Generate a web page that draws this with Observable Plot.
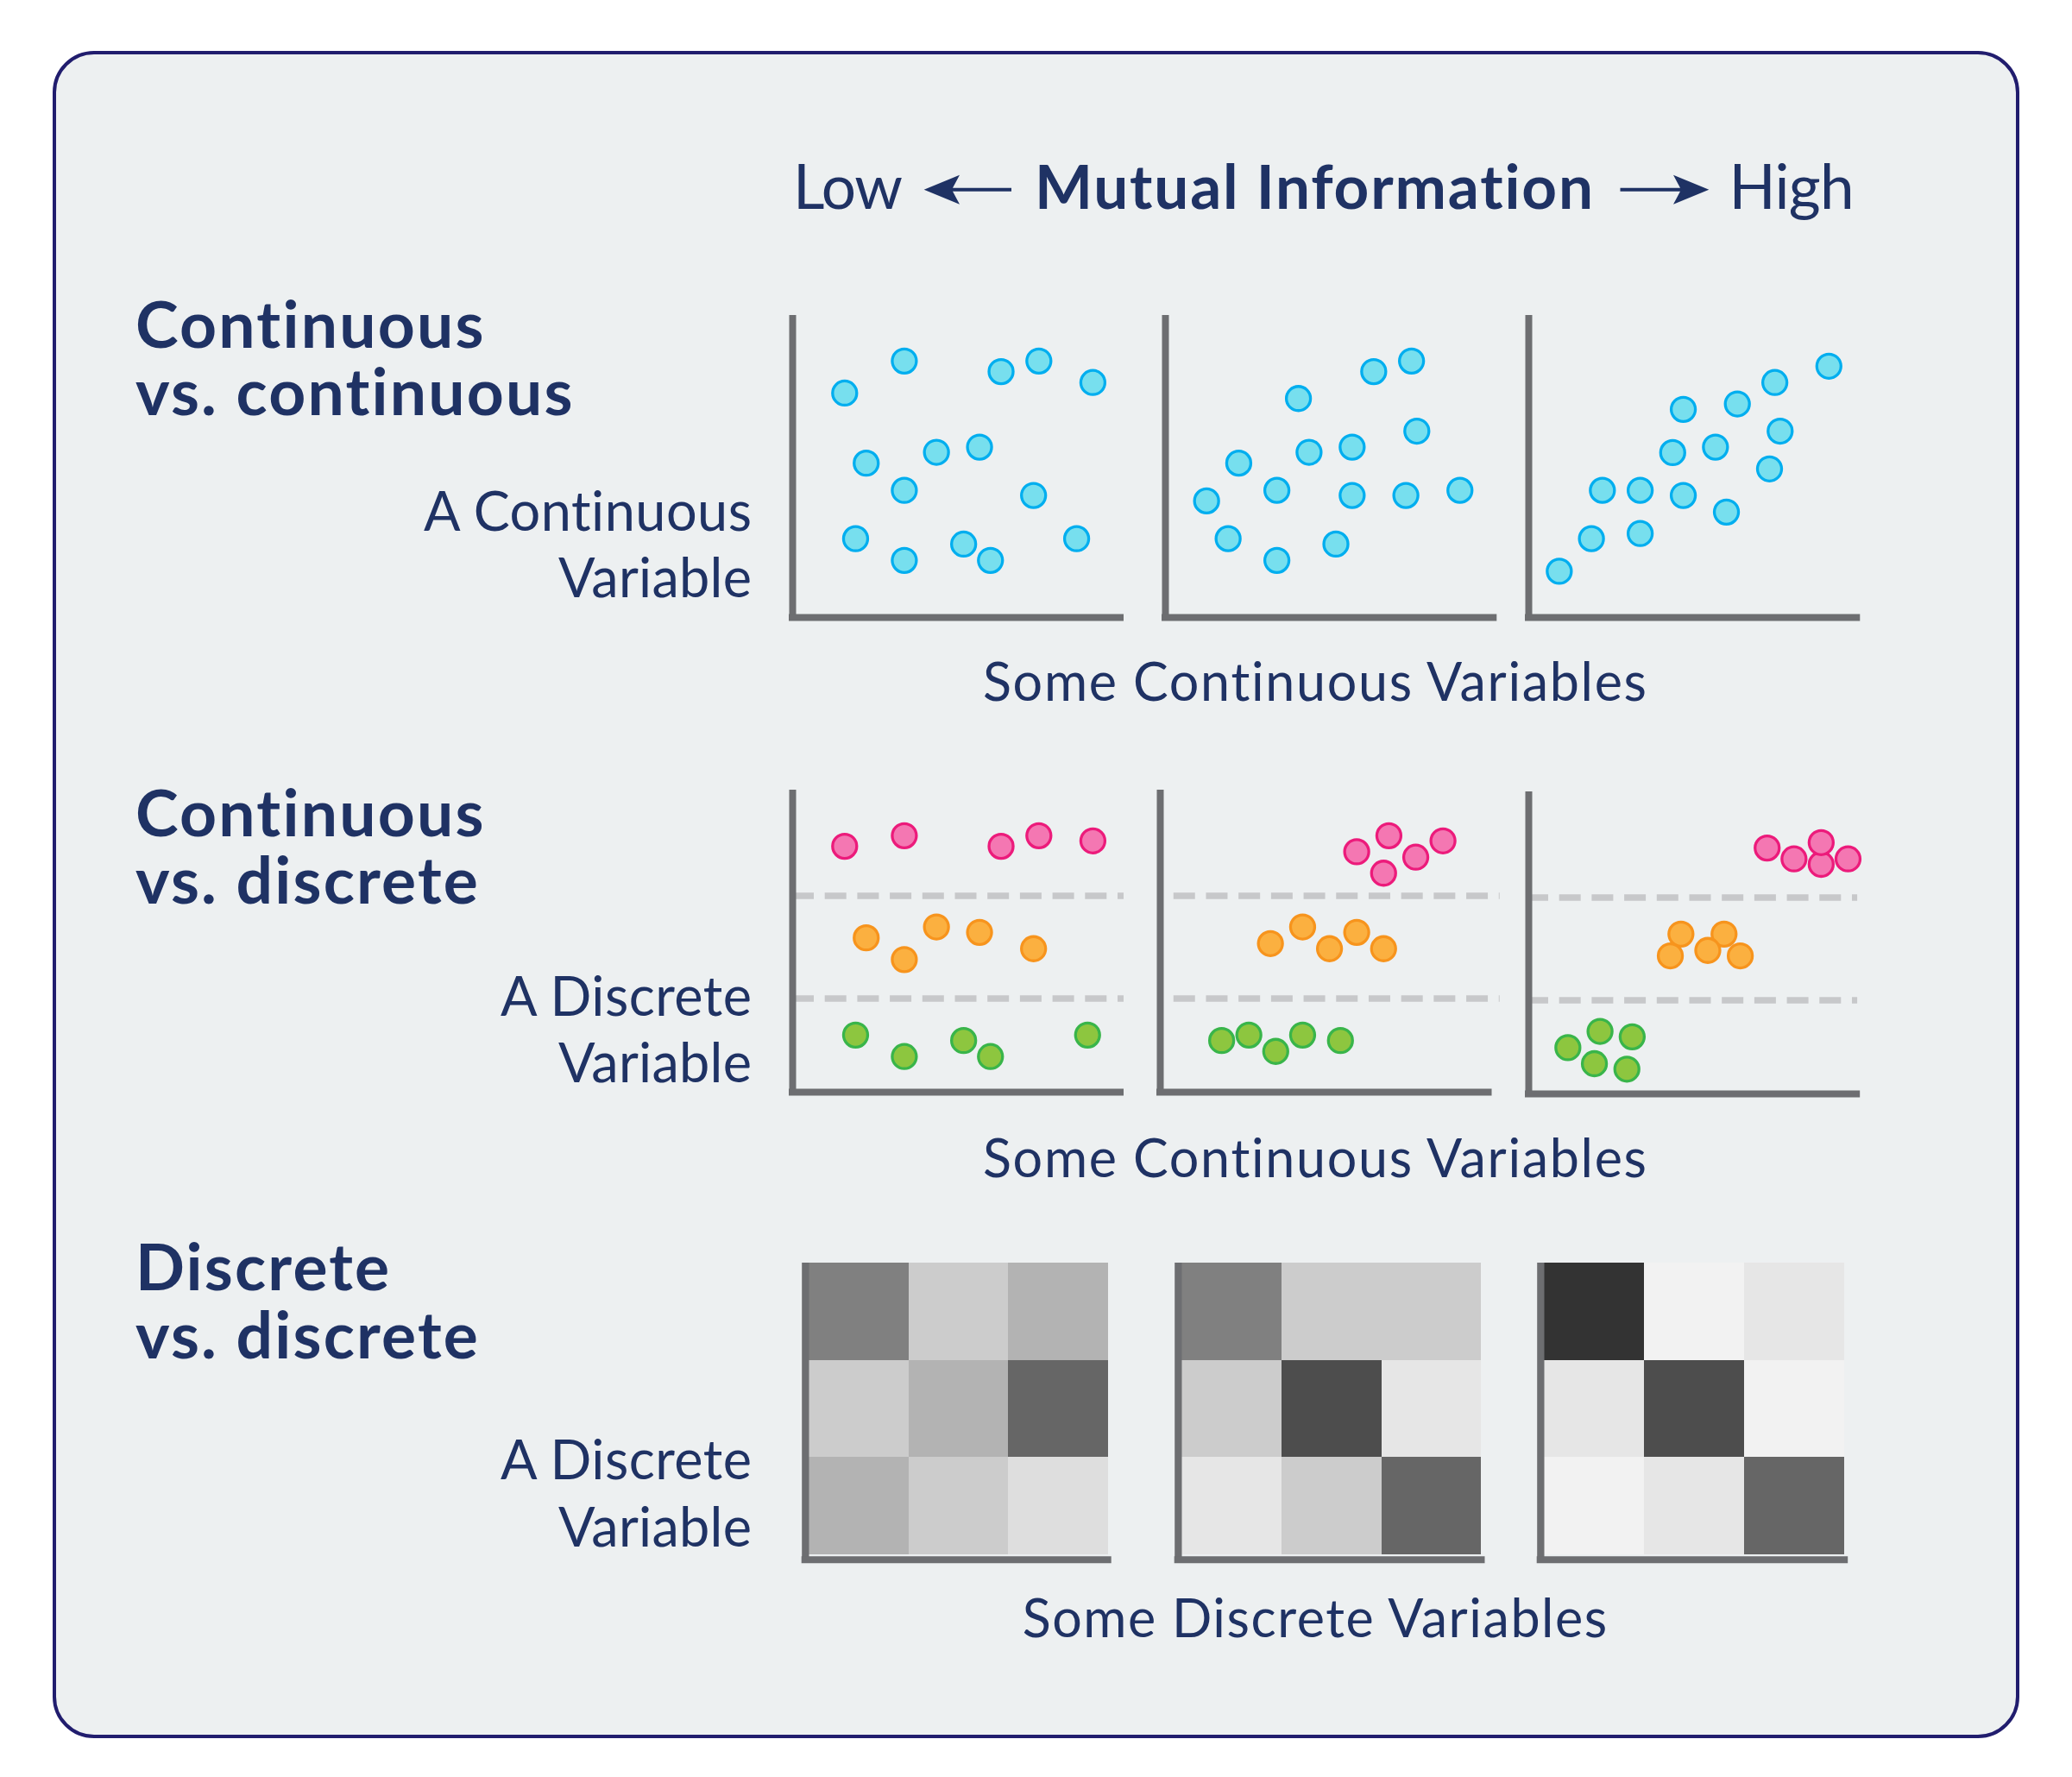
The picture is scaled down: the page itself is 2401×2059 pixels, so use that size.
<!DOCTYPE html>
<html>
<head>
<meta charset="utf-8">
<script src="https://cdn.jsdelivr.net/npm/d3@7"></script>
<script src="https://cdn.jsdelivr.net/npm/@observablehq/plot@0.6"></script>
<style>
html, body { margin: 0; padding: 0; background: #ffffff; }
#root { position: relative; width: 2401px; height: 2059px; overflow: hidden; font-family: Lato, "Open Sans", sans-serif; }
#card { position: absolute; left: 60.7px; top: 59.3px; width: 2279px; height: 1955px; box-sizing: border-box;
        border: 4px solid #211d6e; border-radius: 48px; background: #edf0f1; }
.panel { position: absolute; }
#labels { position: absolute; left: 0; top: 0; pointer-events: none; }
#labels text { font-variant-ligatures: none; font-feature-settings: "liga" 0, "clig" 0; }
.heading { position: absolute; white-space: pre; letter-spacing: 2.2px; font-variant-ligatures: none; font-feature-settings: "liga" 0, "clig" 0; }
</style>
</head>
<body>
<div id="root"><div id="card"></div></div>
<script>
// ---------------- DATA ----------------
// Continuous vs. continuous: [x, y] in 0–100 units of each panel
const ccLow = [[15.7,74.3],[33.7,84.9],[62.9,81.4],[74.3,84.9],[90.6,77.8],[22.2,51.1],[43.4,54.7],[56.4,56.4],
  [33.7,42.1],[72.7,40.4],[19.0,26.1],[33.7,18.9],[51.6,24.3],[59.7,18.9],[85.7,26.1]];
const ccMid = [[40.1,72.5],[62.8,81.4],[74.2,84.9],[75.8,61.7],[22.1,51.1],[43.3,54.7],[56.3,56.4],[12.4,38.6],
  [33.6,42.1],[56.3,40.4],[72.5,40.4],[88.8,42.1],[18.9,26.1],[33.6,18.9],[51.4,24.3]];
const ccHigh = [[90.5,83.2],[74.2,77.8],[62.9,70.7],[46.6,68.9],[75.8,61.7],[43.4,54.6],[56.3,56.4],[72.6,49.2],
  [22.2,42.1],[33.6,42.1],[46.6,40.4],[59.6,34.9],[18.9,26.1],[33.6,27.8],[9.2,15.3]];

// Continuous vs. discrete: [x, y, class]
const cdLow = [[15.7,81.4,"A"],[33.7,84.9,"A"],[62.9,81.4,"A"],[74.3,84.9,"A"],[90.6,83.2,"A"],
  [22.2,51.1,"B"],[33.7,43.9,"B"],[43.4,54.7,"B"],[56.4,52.9,"B"],[72.7,47.5,"B"],
  [19.0,18.9,"C"],[33.7,11.8,"C"],[51.6,17.1,"C"],[59.7,11.8,"C"],[89.0,18.9,"C"]];
const cdMid = [[59.2,79.6,"A"],[68.9,84.9,"A"],[67.3,72.5,"A"],[77.0,77.8,"A"],[85.2,83.2,"A"],
  [33.2,49.2,"B"],[42.9,54.7,"B"],[51.0,47.5,"B"],[59.2,52.9,"B"],[67.3,47.5,"B"],
  [18.5,17.1,"C"],[26.7,18.9,"C"],[34.8,13.5,"C"],[42.9,18.9,"C"],[54.3,17.1,"C"]];
const cdHigh = [[71.9,81.4,"A"],[80.0,77.8,"A"],[88.2,76.0,"A"],[88.2,83.2,"A"],[96.3,77.8,"A"],
  [45.9,52.9,"B"],[42.7,45.7,"B"],[58.9,52.9,"B"],[54.0,47.5,"B"],[63.8,45.7,"B"],
  [11.8,15.3,"C"],[21.5,20.7,"C"],[31.2,18.9,"C"],[19.8,10.0,"C"],[29.6,8.2,"C"]];
const cdDividers = [65, 31];

// Discrete vs. discrete: joint-probability shading, rows top→bottom
const ddLow  = [[0.50,0.20,0.30],[0.20,0.30,0.60],[0.30,0.20,0.13]];
const ddMid  = [[0.50,0.20,0.20],[0.20,0.70,0.10],[0.10,0.20,0.60]];
const ddHigh = [[0.80,0.05,0.10],[0.10,0.70,0.05],[0.05,0.10,0.60]];

// Text
const titleLow = "Low", titleMid = "Mutual Information", titleHigh = "High";
const rowTitles = [["Continuous","vs. continuous"],["Continuous","vs. discrete"],["Discrete","vs. discrete"]];
const yTitles = [["A Continuous","Variable"],["A Discrete","Variable"],["A Discrete","Variable"]];
const xTitles = ["Some Continuous Variables","Some Continuous Variables","Some Discrete Variables"];

// ---------------- STYLE / LAYOUT ----------------
const INK = "#1f3264", AXIS = "#6d6e71", DASH = "#c7c8ca";
const CLASS_FILL = {A: "#f477b2", B: "#fbb040", C: "#8dc63f"};
const CLASS_STROKE = {A: "#ec1b7b", B: "#f7941d", C: "#39b54a"};
const CYAN_FILL = "#77dfee", CYAN_STROKE = "#00aeef";

const root = document.getElementById("root");

function place(svg, left, top) {
  const d = document.createElement("div");
  d.className = "panel";
  d.style.left = left + "px";
  d.style.top = top + "px";
  d.appendChild(svg);
  root.appendChild(d);
}

function scatterPanel(pts, g, opts = {}) {
  const m = 30;
  const w = g.x1 - g.x0, h = g.yb - g.yt;
  const ux = w / 100, uy = h / 100;
  const marks = [];
  if (opts.dividers) {
    marks.push(Plot.ruleY(opts.dividers, {x1: opts.dx1 ?? 0, x2: opts.dx2 ?? 100, stroke: DASH, strokeWidth: 7.7,
      strokeDasharray: "25 12.7", strokeDashoffset: opts.dashOffset ?? 0}));
  }
  marks.push(Plot.ruleX([0], {y1: -4 / uy, y2: 100, stroke: AXIS, strokeWidth: 8}));
  marks.push(Plot.ruleY([0], {x1: -4 / ux, x2: 100, stroke: AXIS, strokeWidth: 8}));
  marks.push(Plot.dot(pts, {
    x: d => d[0], y: d => d[1], r: 14, strokeWidth: 3.3,
    fill: d => d[2] ? CLASS_FILL[d[2]] : CYAN_FILL,
    stroke: d => d[2] ? CLASS_STROKE[d[2]] : CYAN_STROKE
  }));
  const svg = Plot.plot({
    width: w + 2 * m, height: h + 2 * m, margin: m,
    x: {domain: [0, 100], axis: null},
    y: {domain: [0, 100], axis: null},
    color: {type: "identity"},
    style: {background: "transparent", maxWidth: "none", overflow: "visible"},
    marks
  });
  place(svg, g.x0 - m, g.yt - m);
}

function heatPanel(matrix, g) {
  const m = 30;
  const w = g.x1 - g.x0, h = g.yb - g.yt;
  const ux = w / 3, uy = h / 3;
  const cells = matrix.flatMap((row, i) => row.map((v, j) => ({row: i, col: j, v})));
  const svg = Plot.plot({
    width: w + 2 * m, height: h + 2 * m, margin: m,
    x: {domain: [0, 3], axis: null},
    y: {domain: [0, 3], reverse: true, axis: null},
    color: {type: "linear", domain: [0, 1], range: ["#ffffff", "#000000"], interpolate: "rgb"},
    style: {background: "transparent", maxWidth: "none", overflow: "visible"},
    marks: [
      Plot.rect(cells, {x1: "col", x2: d => d.col + 1, y1: "row", y2: d => d.row + 1, fill: "v", shapeRendering: "crispEdges"}),
      Plot.ruleX([0], {dx: -4.15, y1: 0, y2: 3 + 10 / uy, stroke: AXIS, strokeWidth: 8.3}),
      Plot.ruleY([3], {dy: 6, x1: -8.3 / ux, x2: 3 + 4 / ux, stroke: AXIS, strokeWidth: 8})
    ]
  });
  place(svg, g.x0 - m, g.yt - m);
}

// Row 1
scatterPanel(ccLow,  {x0: 918,    x1: 1302, yt: 365, yb: 715});
scatterPanel(ccMid,  {x0: 1349.7, x1: 1734, yt: 365, yb: 715});
scatterPanel(ccHigh, {x0: 1770.7, x1: 2155, yt: 365, yb: 715});
// Row 2
scatterPanel(cdLow,  {x0: 918,    x1: 1302,   yt: 915, yb: 1265}, {dividers: cdDividers, dx1: 0, dx2: 100});
scatterPanel(cdMid,  {x0: 1344.2, x1: 1728.7, yt: 915, yb: 1265}, {dividers: cdDividers, dx1: 4.1, dx2: 102.4});
scatterPanel(cdHigh, {x0: 1770.8, x1: 2155,   yt: 917, yb: 1267}, {dividers: cdDividers, dx1: 0, dx2: 99.2, dashOffset: 2});
// Row 3
heatPanel(ddLow,  {x0: 937.3,  x1: 1284,   yt: 1463, yb: 1800.7});
heatPanel(ddMid,  {x0: 1368.5, x1: 1716,   yt: 1463, yb: 1800.7});
heatPanel(ddHigh, {x0: 1788.9, x1: 2137.1, yt: 1463, yb: 1800.7});

// ---------------- ROW HEADINGS (one two-line text block each) ----------------
const HEAD_SIZE = 75, HEAD_LH = 78.4;
const rowBase = [403.3, 969.3, 1495.4];
rowTitles.forEach((lines, i) => {
  const div = document.createElement("div");
  div.className = "heading";
  const top = rowBase[i] - (HEAD_LH - 1.2 * HEAD_SIZE) / 2 - 0.987 * HEAD_SIZE;
  div.style.cssText += `left:157px;top:${top}px;font:700 ${HEAD_SIZE}px/${HEAD_LH}px Lato, sans-serif;color:${INK};`;
  div.textContent = lines.join("\n");
  root.appendChild(div);
});

// ---------------- TEXT OVERLAY ----------------
const NS = "http://www.w3.org/2000/svg";
const ov = document.createElementNS(NS, "svg");
ov.setAttribute("id", "labels");
ov.setAttribute("width", 2401);
ov.setAttribute("height", 2059);
root.appendChild(ov);

function txt(s, x, y, {size, weight = 400, anchor = "start", len}) {
  const t = document.createElementNS(NS, "text");
  t.textContent = s;
  t.setAttribute("x", x);
  t.setAttribute("y", y);
  t.setAttribute("fill", INK);
  t.setAttribute("font-family", "Lato, 'Open Sans', sans-serif");
  t.setAttribute("font-size", size);
  t.setAttribute("font-weight", weight);
  t.setAttribute("text-anchor", anchor);
  if (len) { t.setAttribute("textLength", len); t.setAttribute("lengthAdjust", "spacing"); }
  ov.appendChild(t);
}
function path(d) {
  const p = document.createElementNS(NS, "path");
  p.setAttribute("d", d);
  p.setAttribute("fill", INK);
  ov.appendChild(p);
}

// Title
txt(titleLow, 919, 241.7, {size: 71, len: 127});
txt(titleMid, 1199, 241.7, {size: 71, weight: 700, len: 647});
txt(titleHigh, 2003.5, 241.7, {size: 71, len: 145});
path("M1070.7,219.7 L1112,202.7 L1104,217.7 L1172,217.7 L1172,221.7 L1104,221.7 L1112,236.7 Z");
path("M1980.3,219.7 L1939,202.7 L1947,217.7 L1877.5,217.7 L1877.5,221.7 L1947,221.7 L1939,236.7 Z");

// Y titles
const yBase = [[615, 691.7], [1176.6, 1254.4], [1714.2, 1792]];
const yLens = [[380, 224], [291, 224], [291, 224]];
yTitles.forEach((lines, i) => lines.forEach((s, j) =>
  txt(s, 871, yBase[i][j], {size: 63, anchor: "end", len: yLens[i][j]})));

// X titles
const xBase = [811.5, 1364, 1897];
const xLens = [769, 769, 677.5];
xTitles.forEach((s, i) => txt(s, 1523.5, xBase[i], {size: 61, anchor: "middle", len: xLens[i]}));
</script>
</body>
</html>
